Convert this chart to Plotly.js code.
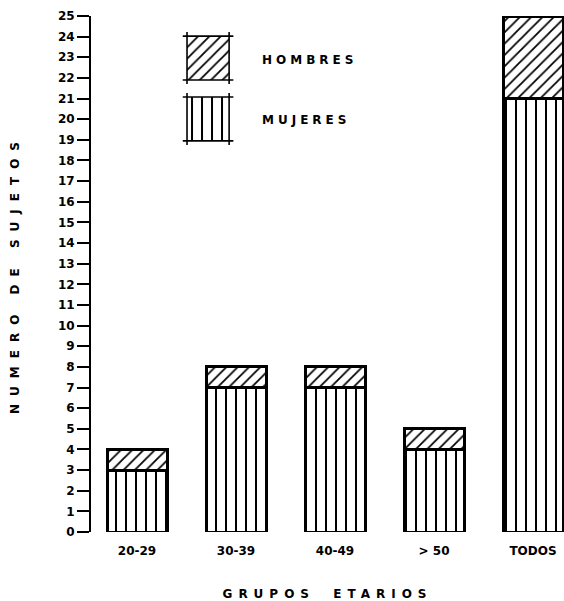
<!DOCTYPE html>
<html>
<head>
<meta charset="utf-8">
<script src="https://cdn.plot.ly/plotly-3.0.1.min.js"></script>
<style>
  html, body { margin: 0; padding: 0; background: #fff; }
  #chart { width: 564px; height: 601px; }
  .xtitle { letter-spacing: 6px; word-spacing: 8px; }
  .ytitle { letter-spacing: 8px; }
  .annotation-text { letter-spacing: 4px; }
</style>
</head>
<body>
<div id="chart"></div>
<script>
// ---- data ----
const categories = ["20-29", "30-39", "40-49", "> 50", "TODOS"];
const mujeres = [3, 7, 7, 4, 21];
const hombres = [1, 1, 1, 1, 4];
const yTickValues = [0,1,2,3,4,5,6,7,8,9,10,11,12,13,14,15,16,17,18,19,20,21,22,23,24,25];
const seriesNames = ["HOMBRES", "MUJERES"];
const legendSwatch = [1];

// ---- styles ----
const FONT = "DejaVu Sans, Liberation Sans, sans-serif";
const patVert = {shape: "|", size: 10, solidity: 0.2, fgcolor: "#000", bgcolor: "#fff", fillmode: "replace"};
const patDiag = {shape: "/", size: 8, solidity: 0.22, fgcolor: "#000", bgcolor: "#fff", fillmode: "replace"};

const legendXDomain = [0.203, 0.292];
const legendHomDomain = [0.876, 0.961];
const legendMujDomain = [0.758, 0.843];

const traces = [
  {
    type: "bar", name: seriesNames[1], x: categories, y: mujeres,
    marker: {color: "#fff", pattern: patVert, line: {color: "#000", width: 3}},
    showlegend: false, hoverinfo: "skip"
  },
  {
    type: "bar", name: seriesNames[0], x: categories, y: hombres,
    marker: {color: "#fff", pattern: patDiag, line: {color: "#000", width: 3}},
    showlegend: false, hoverinfo: "skip"
  },
  // legend swatches
  {
    type: "bar", x: [0], y: legendSwatch, width: [1], xaxis: "x2", yaxis: "y2",
    marker: {color: "#fff", pattern: patDiag, line: {color: "#000", width: 0}},
    showlegend: false, hoverinfo: "skip"
  },
  {
    type: "bar", x: [0], y: legendSwatch, width: [1], xaxis: "x3", yaxis: "y3",
    marker: {color: "#fff", pattern: patVert, line: {color: "#000", width: 0}},
    showlegend: false, hoverinfo: "skip"
  }
];

// legend box outlines with overshooting corners
const shapes = [];
const ox = 0.009, oy = 0.008;
[legendHomDomain, legendMujDomain].forEach(function(yd) {
  const x0 = legendXDomain[0], x1 = legendXDomain[1];
  const y0 = yd[0], y1 = yd[1];
  const ln = {color: "#000", width: 1.6};
  shapes.push({type: "line", xref: "paper", yref: "paper", x0: x0 - ox, x1: x1 + ox, y0: y0, y1: y0, line: ln});
  shapes.push({type: "line", xref: "paper", yref: "paper", x0: x0 - ox, x1: x1 + ox, y0: y1, y1: y1, line: ln});
  shapes.push({type: "line", xref: "paper", yref: "paper", x0: x0, x1: x0, y0: y0 - oy, y1: y1 + oy, line: ln});
  shapes.push({type: "line", xref: "paper", yref: "paper", x0: x1, x1: x1, y0: y0 - oy, y1: y1 + oy, line: ln});
});

const hiddenAxis = {visible: false, fixedrange: true};
const f12 = {family: FONT, size: 12, color: "#000", weight: "bold"};

const layout = {
  width: 564, height: 601,
  margin: {l: 91, r: 0, t: 16, b: 69},
  paper_bgcolor: "#fff", plot_bgcolor: "#fff",
  barmode: "stack", bargap: 0.394,
  showlegend: false,
  font: f12,
  xaxis: {
    type: "category", range: [-0.465, 4.313],
    showline: false, showgrid: false, zeroline: false, ticks: "",
    ticklabelstandoff: 10,
    tickfont: f12,
    title: {text: "GRUPOS ETARIOS", standoff: 34, font: f12}
  },
  yaxis: {
    range: [0, 25], tickvals: yTickValues,
    showline: true, linecolor: "#000", linewidth: 2,
    ticks: "outside", ticklen: 12, tickwidth: 2, tickcolor: "#000",
    showgrid: false, zeroline: false,
    tickfont: f12,
    title: {text: "NUMERO DE SUJETOS", standoff: 36, font: f12}
  },
  xaxis2: Object.assign({domain: legendXDomain, anchor: "y2", range: [-0.5, 0.5]}, hiddenAxis),
  yaxis2: Object.assign({domain: legendHomDomain, anchor: "x2", range: [0, 1]}, hiddenAxis),
  xaxis3: Object.assign({domain: legendXDomain, anchor: "y3", range: [-0.5, 0.5]}, hiddenAxis),
  yaxis3: Object.assign({domain: legendMujDomain, anchor: "x3", range: [0, 1]}, hiddenAxis),
  shapes: shapes,
  annotations: [
    {text: seriesNames[0], xref: "paper", yref: "paper", x: 0.357, y: 0.915, xanchor: "left", yanchor: "middle", showarrow: false, font: f12},
    {text: seriesNames[1], xref: "paper", yref: "paper", x: 0.357, y: 0.798, xanchor: "left", yanchor: "middle", showarrow: false, font: f12}
  ]
};

Plotly.newPlot("chart", traces, layout, {staticPlot: true, displayModeBar: false});
</script>
</body>
</html>
